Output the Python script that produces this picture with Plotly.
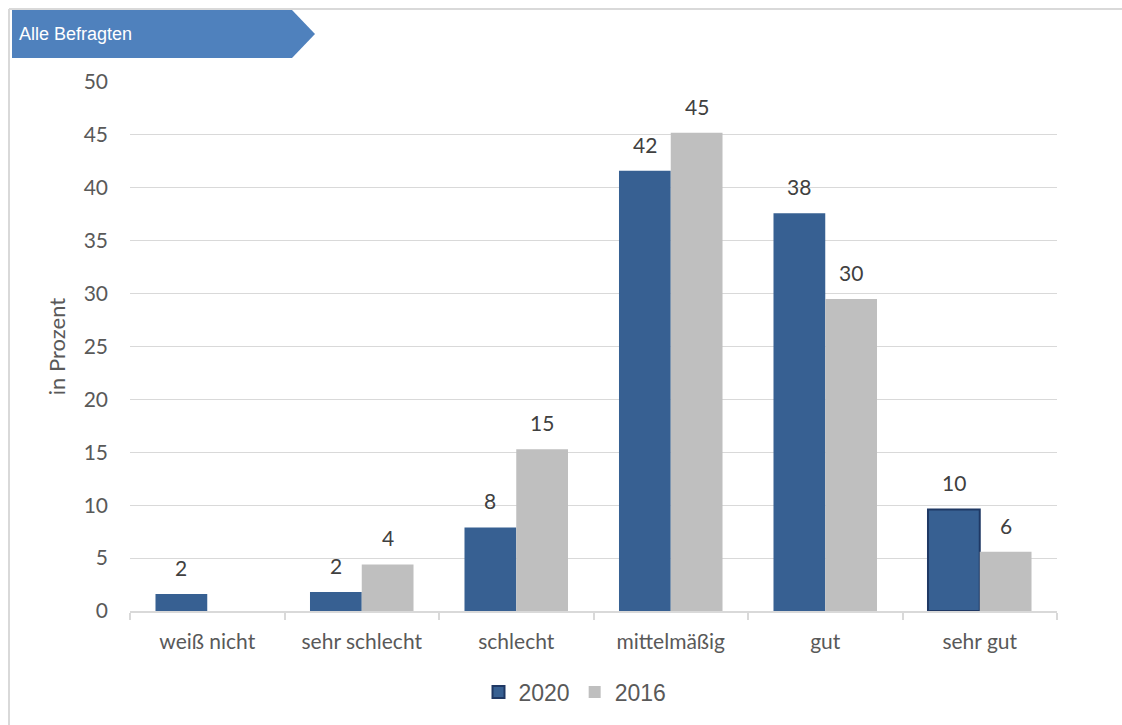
import plotly.graph_objects as go

categories = ["weiß nicht", "sehr schlecht", "schlecht", "mittelmäßig", "gut", "sehr gut"]
values_2020 = [1.6, 1.8, 7.9, 41.6, 37.6, 9.6]
values_2016 = [0, 4.4, 15.3, 45.2, 29.5, 5.6]
labels_2020 = ["2", "2", "8", "42", "38", "10"]
labels_2016 = ["", "4", "15", "45", "30", "6"]
y_ticks = [0, 5, 10, 15, 20, 25, 30, 35, 40, 45, 50]

W, H = 1122, 725
L, R, T, B = 130, 65, 82, 114
PW, PH = W - L - R, H - T - B

def px(x):
    return (x - L) / PW

def py(y):
    return (H - B - y) / PH

C2020 = "#376092"
C2016 = "#BFBFBF"
EDGE = "#1F3864"
TXT = "#404040"
AX = "#595959"
FONT = "Lato, Carlito, sans-serif"

fig = go.Figure()
fig.add_trace(go.Bar(
    name="2020", x=categories, y=values_2020, offsetgroup="a", showlegend=False,
    marker=dict(color=C2020,
                line=dict(color=[EDGE if i == 5 else C2020 for i in range(len(categories))],
                          width=[2 if i == 5 else 0 for i in range(len(categories))])),
))
# legend entry for 2020 (outlined swatch)
fig.add_trace(go.Bar(
    name="2020", x=[categories[0]], y=[None], offsetgroup="a",
    marker=dict(color=C2020, line=dict(color=EDGE, width=2)),
))
fig.add_trace(go.Bar(
    name="2016", x=categories, y=values_2016, offsetgroup="b",
    marker=dict(color=C2016, line=dict(width=0)),
))

annotations = []
for cat, v, t in zip(categories, values_2020, labels_2020):
    if t:
        annotations.append(dict(x=cat, y=v, xref="x", yref="y", text=t, showarrow=False,
                                xanchor="center", yanchor="bottom", xshift=-26, yshift=12,
                                font=dict(size=21, color=TXT, family=FONT)))
for cat, v, t in zip(categories, values_2016, labels_2016):
    if t:
        annotations.append(dict(x=cat, y=v, xref="x", yref="y", text=t, showarrow=False,
                                xanchor="center", yanchor="bottom", xshift=26, yshift=12,
                                font=dict(size=21, color=TXT, family=FONT)))

shapes = [
    dict(type="line", xref="paper", yref="paper", x0=px(9), x1=px(1122), y0=py(9), y1=py(9),
         line=dict(color="#D9D9D9", width=2)),
    dict(type="line", xref="paper", yref="paper", x0=px(9), x1=px(9), y0=py(9), y1=py(725),
         line=dict(color="#D9D9D9", width=2)),
    dict(type="path", xref="paper", yref="paper",
         path=f"M {px(12)} {py(10)} L {px(292)} {py(10)} L {px(315)} {py(34)} L {px(292)} {py(58)} L {px(12)} {py(58)} Z",
         fillcolor="#4F81BD", line=dict(width=0)),
]
annotations.append(dict(text="Alle Befragten", xref="paper", yref="paper", x=px(17), y=py(34),
                        xanchor="left", yanchor="middle", showarrow=False,
                        font=dict(size=18, color="white", family="Liberation Sans, Arial, sans-serif")))

fig.update_layout(
    width=W, height=H,
    margin=dict(l=L, r=R, t=T, b=B, autoexpand=False),
    paper_bgcolor="white", plot_bgcolor="white",
    barmode="group", bargap=0.33, bargroupgap=0,
    shapes=shapes, annotations=annotations,
    font=dict(family=FONT, color=AX),
    legend=dict(orientation="h", x=(575 / W), xanchor="center", xref="container",
                y=(H - 692) / H, yanchor="middle", yref="container",
                font=dict(size=23, color=AX, family="Liberation Sans, Arial, sans-serif"),
                itemwidth=30, tracegroupgap=0, traceorder="normal"),
    showlegend=True,
)
fig.update_yaxes(
    range=[0, 50], tickvals=y_ticks, showgrid=True, gridcolor="#D9D9D9", gridwidth=1,
    zeroline=False, showline=False, ticks="", ticklabelstandoff=21, automargin=False,
    tickfont=dict(size=21, color=AX),
    title=dict(text="in Prozent", font=dict(size=22, color=AX), standoff=11),
)
fig.update_xaxes(
    showline=True, linecolor="#D9D9D9", linewidth=2, ticks="outside", tickson="boundaries",
    ticklen=7, tickcolor="#D9D9D9", tickwidth=2, showgrid=False, automargin=False,
    tickfont=dict(size=21, color=AX), ticklabelstandoff=11,
)

fig.write_html("out.html")
